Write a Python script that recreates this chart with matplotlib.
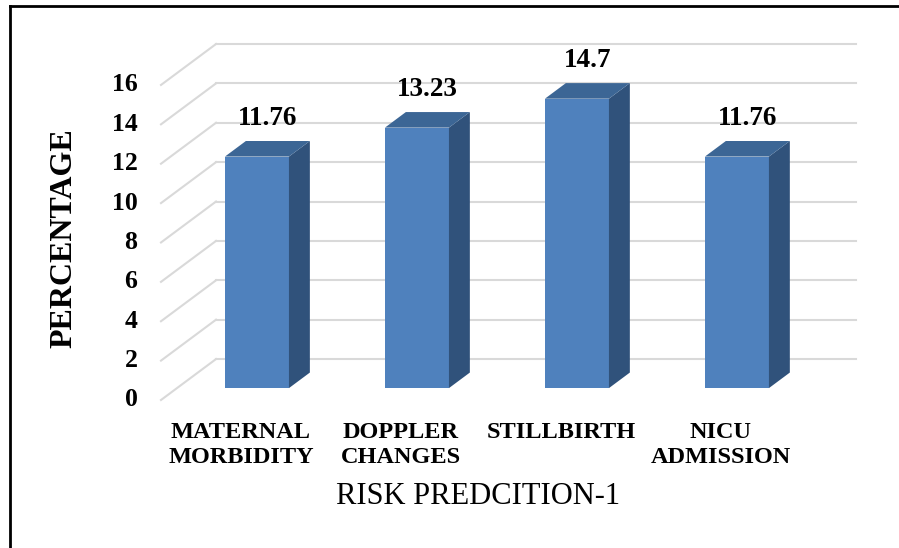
import matplotlib
matplotlib.use('Agg')
import matplotlib.pyplot as plt
from matplotlib.patches import Polygon, Rectangle
from matplotlib.lines import Line2D

categories = ['MATERNAL\nMORBIDITY', 'DOPPLER\nCHANGES', 'STILLBIRTH', 'NICU\nADMISSION']
values = [11.76, 13.23, 14.7, 11.76]
value_labels = ['11.76', '13.23', '14.7', '11.76']
yticks = [0, 2, 4, 6, 8, 10, 12, 14, 16]

# oblique "3D" depth: how far the back wall sits from the front plane (data units)
DX = 0.344
DY = 2.08
BAR_W = 0.4
D0 = 0.29   # depth where the bar front face sits
DD = 0.38   # bar depth

FRONT = '#4f81bd'
TOP = '#3c6695'
SIDE = '#30527b'
GRID = '#d9d9d9'
FONT = 'Liberation Serif'

fig = plt.figure(figsize=(8.99, 5.48), dpi=100)
ax = fig.add_axes([161 / 899, 148 / 548, 695 / 899, 356 / 548])
ax.set_xlim(0, len(values) + DX)
ax.set_ylim(0, yticks[-1] + DY)
ax.axis('off')

# side wall and back wall gridlines
for v in yticks:
    ax.plot([0, DX], [v, v + DY], color=GRID, lw=1.5, zorder=1, clip_on=False)
    ax.plot([DX, len(values) + DX], [v + DY, v + DY], color=GRID, lw=1.5, zorder=1, clip_on=False)
    ax.annotate(str(v), (0, v), xytext=(-17, 0), textcoords='offset points',
                ha='right', va='center', fontsize=18.5, fontweight='bold', family=FONT)

for i, v in enumerate(values):
    x0 = i + 0.5 - BAR_W / 2 + D0 * DX
    x1 = x0 + BAR_W
    yb = D0 * DY
    ox, oy = DD * DX, DD * DY
    ax.add_patch(Rectangle((x0, yb), BAR_W, v, facecolor=FRONT, edgecolor='none', zorder=3))
    ax.add_patch(Polygon([(x1, yb), (x1 + ox, yb + oy), (x1 + ox, yb + oy + v), (x1, yb + v)],
                         closed=True, facecolor=SIDE, edgecolor='none', zorder=3))
    ax.add_patch(Polygon([(x0, yb + v), (x1, yb + v), (x1 + ox, yb + oy + v), (x0 + ox, yb + oy + v)],
                         closed=True, facecolor=TOP, edgecolor='none', zorder=3))
    ax.annotate(value_labels[i], (i + 0.5 + (D0 + DD / 2) * DX, v + (D0 + DD) * DY),
                xytext=(0, 16), textcoords='offset points', ha='center', va='center',
                fontsize=19.5, fontweight='bold', family=FONT, zorder=4)
    ax.annotate(categories[i], (i + 0.5, 0), xytext=(0, -16), textcoords='offset points',
                ha='center', va='top', fontsize=17.5, fontweight='bold', family=FONT,
                linespacing=1.25)

fig.text(64 / 899, 1 - 238 / 548, 'PERCENTAGE', rotation=90, ha='center', va='center',
         fontsize=23, fontweight='bold', family=FONT)
fig.text(478 / 899, 1 - 497 / 548, 'RISK PREDCITION-1', ha='center', va='center',
         fontsize=22, family=FONT)

# outer frame (left and top edges)
fig.add_artist(Line2D([9.5 / 899, 9.5 / 899], [0, 1 - 6 / 548], color='black', lw=2))
fig.add_artist(Line2D([9.5 / 899, 1], [1 - 6 / 548, 1 - 6 / 548], color='black', lw=2))

fig.savefig('out.png', dpi=100)
